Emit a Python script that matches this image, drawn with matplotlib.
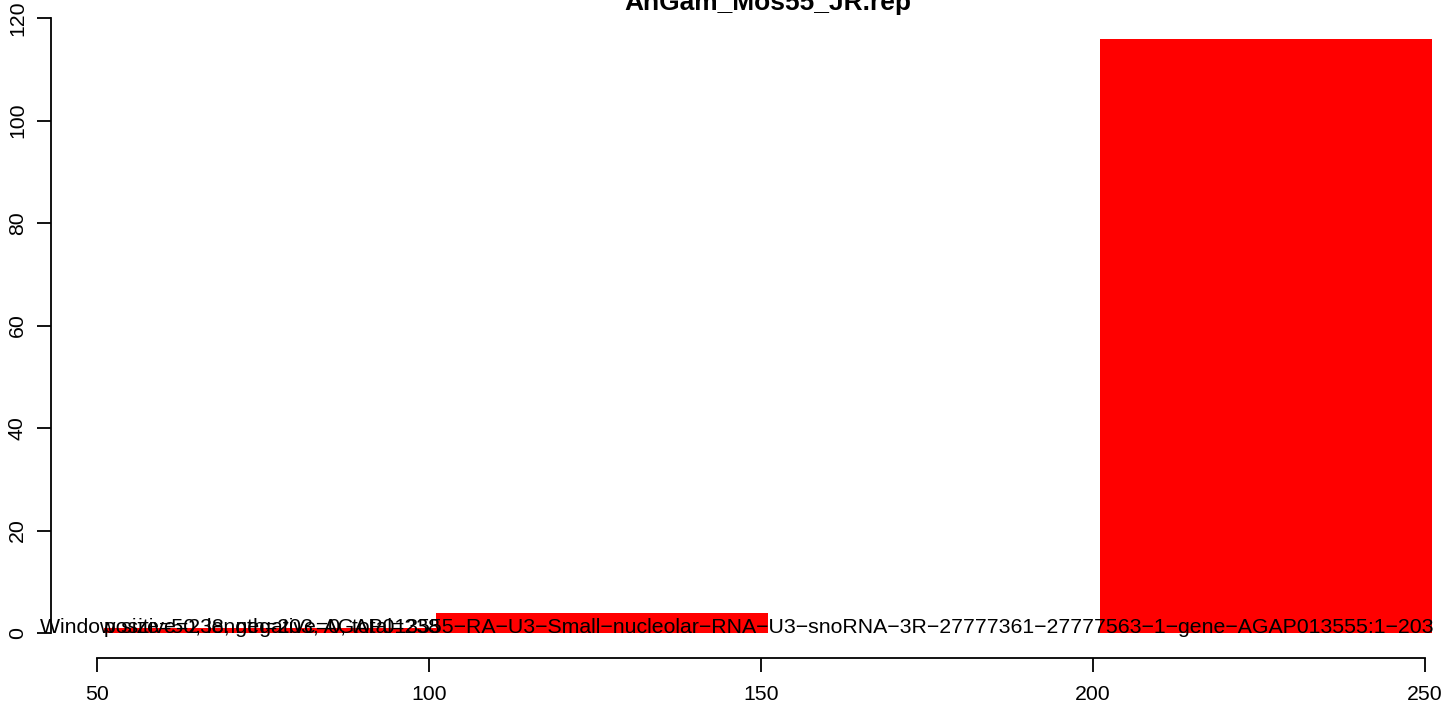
import matplotlib
matplotlib.use('Agg')
import matplotlib.pyplot as plt

plt.rcParams['font.family'] = ['Liberation Sans', 'DejaVu Sans']

# data (binned counts along the sequence)
bin_starts = [51, 101, 151, 201]
bin_counts = [1, 4, 0, 116]
bin_width = 50

x_ticks = [50, 100, 150, 200, 250]
y_ticks = [0, 20, 40, 60, 80, 100, 120]

title = "AnGam_Mos55_JR.rep"
info_label = ("Window size=50, length=203, AGAP013555\u2212RA\u2212U3\u2212Small\u2212nucleolar\u2212RNA\u2212"
              "U3\u2212snoRNA\u22123R\u221227777361\u221227777563\u22121\u2212gene\u2212AGAP013555:1\u2212203")
count_label = "positive=238, negative=0, total=238"

W, H = 1441, 704
fig = plt.figure(figsize=(W / 100, H / 100), dpi=100)

# plot region in pixels (R style, the image is cropped at top and right)
left_px, right_px = 50.5, 1484.8
top_px, bottom_px = -6.6, 657.6
ax = fig.add_axes([left_px / W, (H - bottom_px) / H,
                   (right_px - left_px) / W, (bottom_px - top_px) / H])

ax.bar(bin_starts, bin_counts, width=bin_width, align='edge', color='red', linewidth=0)

ax.set_xlim(43, 259)
ax.set_ylim(-4.8, 124.8)

for s in ['top', 'right']:
    ax.spines[s].set_visible(False)
ax.spines['left'].set_bounds(y_ticks[0], y_ticks[-1])
ax.spines['bottom'].set_bounds(x_ticks[0], x_ticks[-1])
for s in ['left', 'bottom']:
    ax.spines[s].set_linewidth(1.3)
    ax.spines[s].set_color('black')

fs = 15.3
ax.set_xticks(x_ticks)
ax.set_yticks(y_ticks)
ax.set_xticklabels([str(t) for t in x_ticks], fontsize=fs)
ax.set_yticklabels([str(t) for t in y_ticks], fontsize=fs, rotation=90, va='center')
ax.tick_params(axis='both', direction='out', length=10, width=1.3, color='black')
ax.tick_params(axis='x', pad=10)
ax.tick_params(axis='y', pad=7)

ax.text(41.4, 0, info_label, ha='left', va='baseline', fontsize=fs, clip_on=False)
ax.text(51, 0, count_label, ha='left', va='baseline', fontsize=fs, clip_on=False)

fig.text((left_px + right_px) / 2 / W, (H - 10) / H, title, ha='center', va='baseline',
         fontsize=19, fontweight='bold')

fig.savefig('out.png', dpi=100)
